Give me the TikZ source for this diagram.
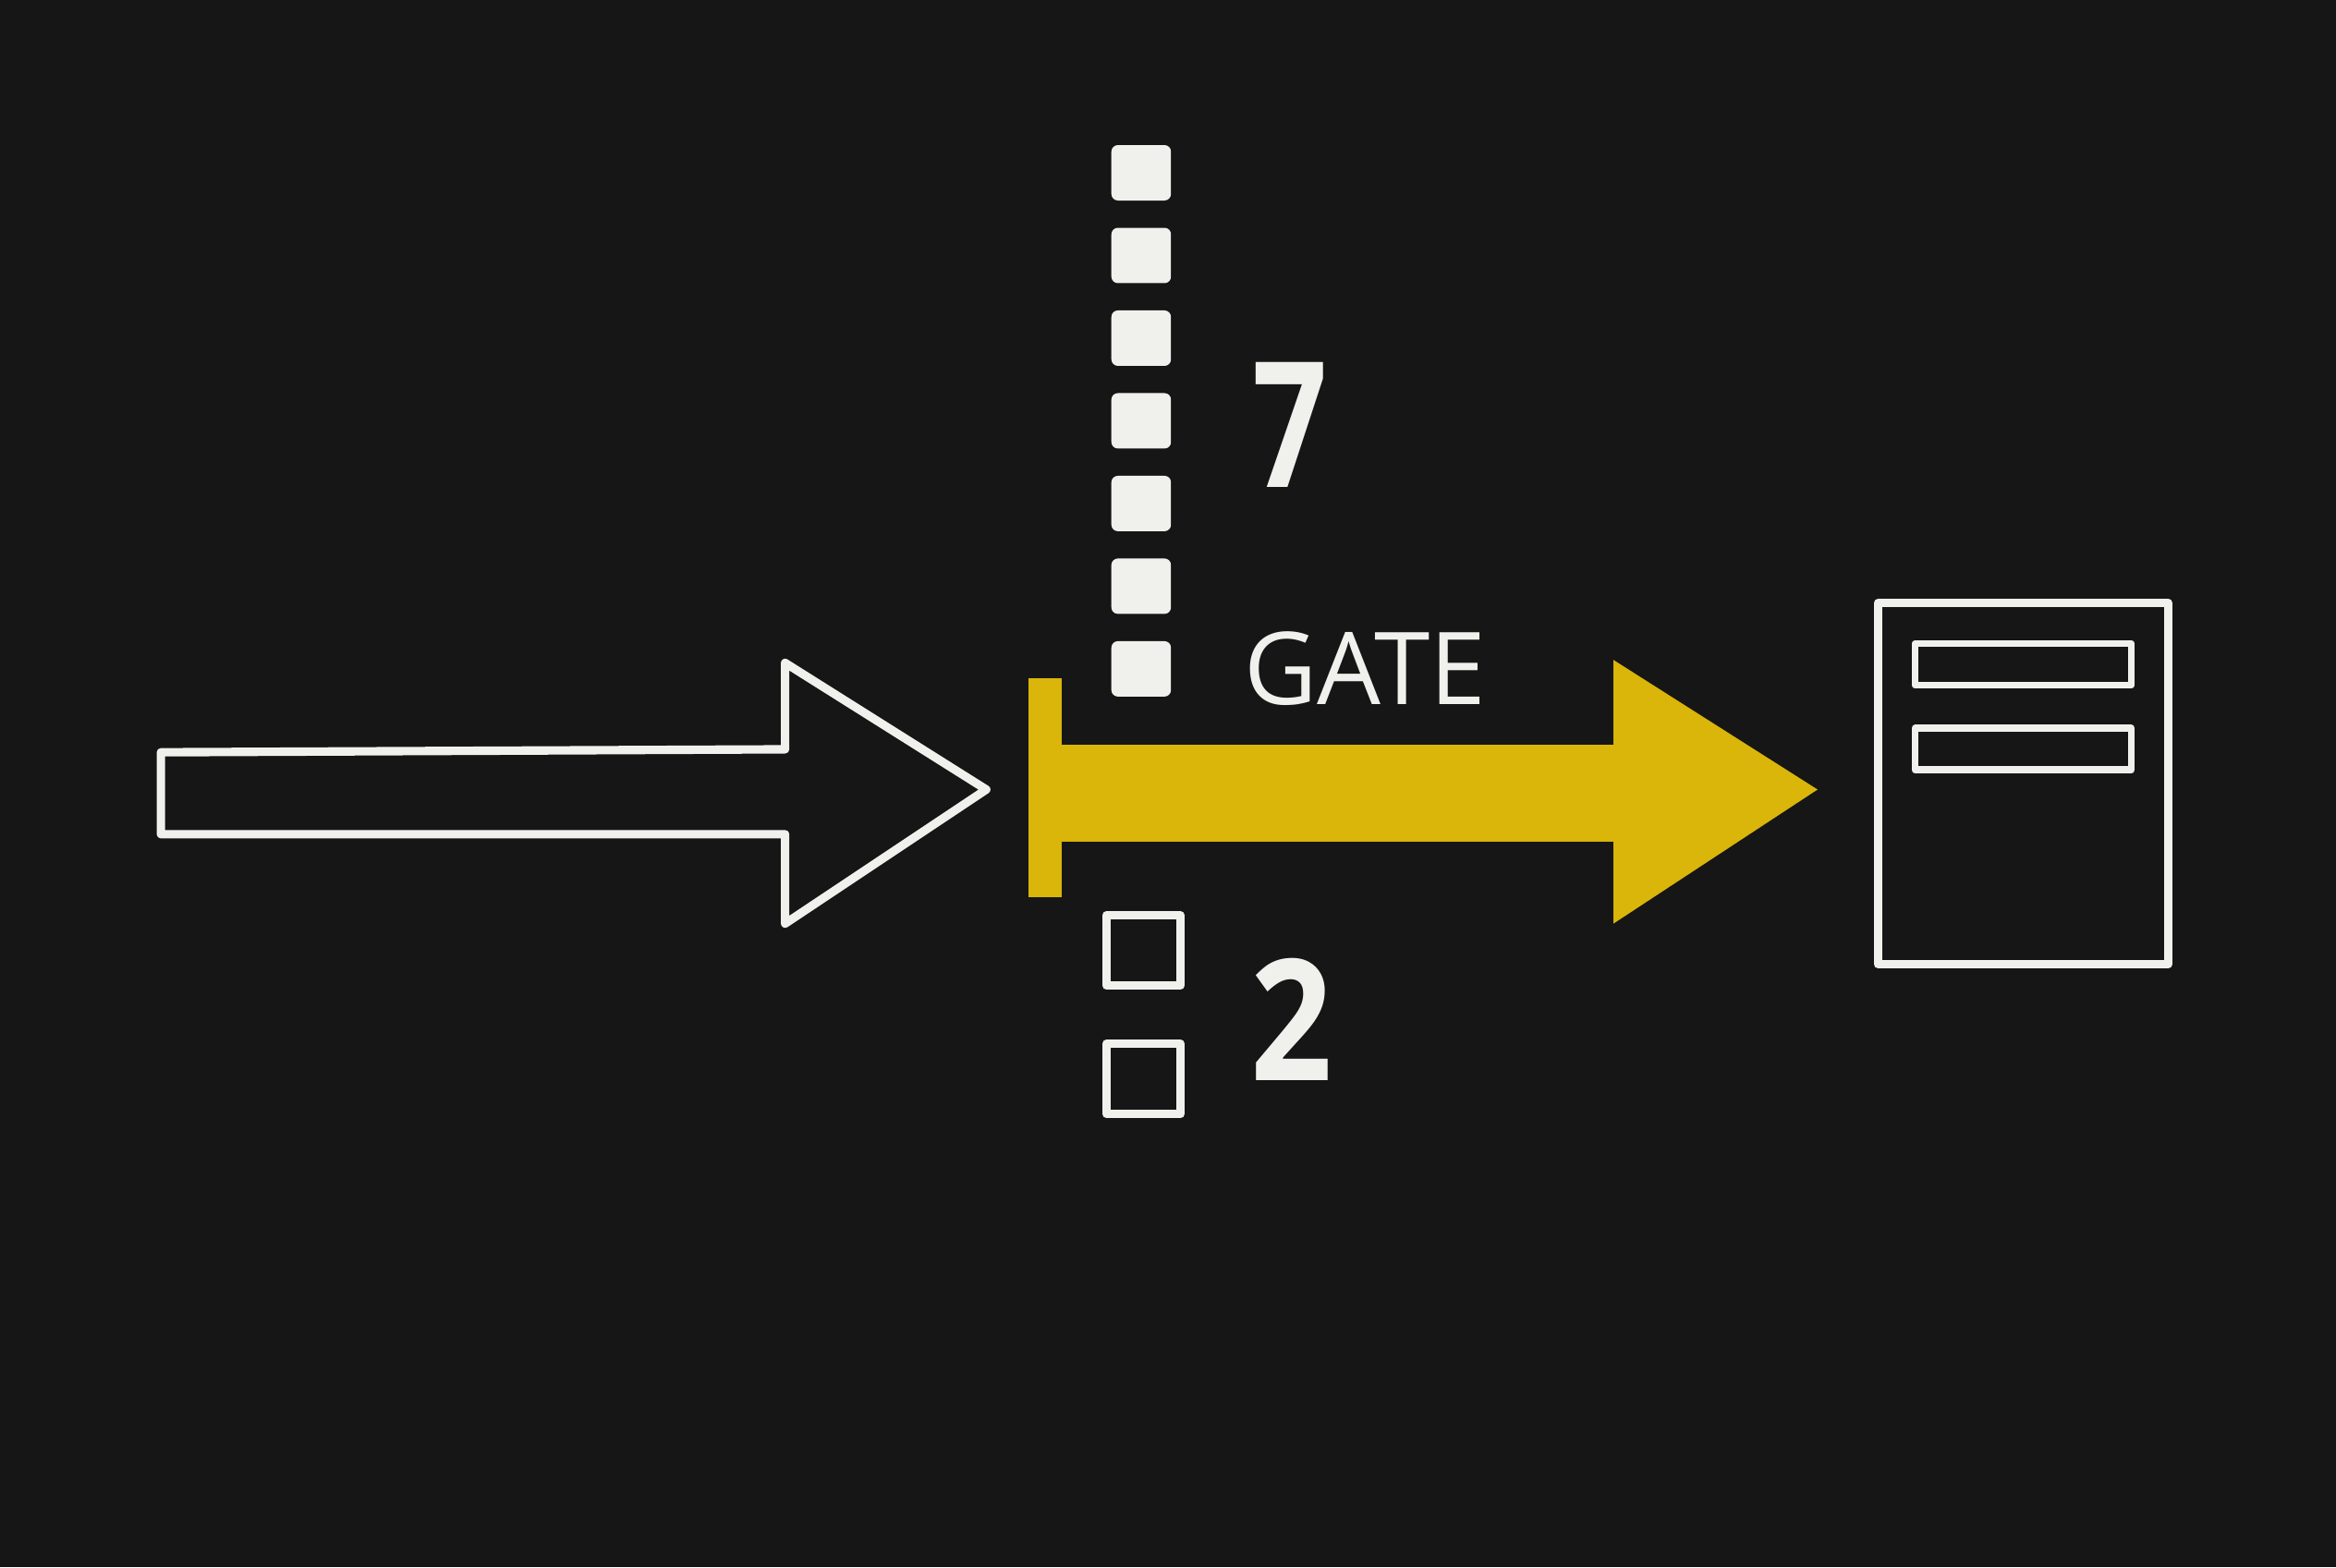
\documentclass[tikz,border=0pt]{standalone}
\usepackage{fontspec}
\setmainfont{Open Sans}
\usetikzlibrary{positioning,calc}
\definecolor{chalkbg}{RGB}{22,22,22}
\definecolor{chalkwhite}{RGB}{240,240,237}
\definecolor{chalkyellow}{RGB}{218,181,10}
\tikzset{
  chalk/.style={draw=chalkwhite, line width=2.6pt, line join=round, line cap=round},
  fullsq/.style={fill=chalkwhite, rounded corners=2pt, inner sep=0pt,
    minimum width=0.645cm, minimum height=0.6cm},
  opensq/.style={chalk, inner sep=0pt, minimum width=0.8cm, minimum height=0.76cm},
  gatebar/.style={fill=chalkyellow, inner sep=0pt, minimum width=0.37cm, minimum height=2.37cm},
  docbox/.style={chalk, inner sep=0pt, minimum width=3.14cm, minimum height=3.91cm},
  docline/.style={chalk, line width=2.2pt, inner sep=0pt, minimum width=2.34cm, minimum height=0.45cm},
  lbl/.style={text=chalkwhite, inner sep=0pt},
  every picture/.append style={line join=round}
}
\begin{document}
\begin{tikzpicture}[x=0.016122cm, y=-0.016122cm]
  \fill[chalkbg] (0,0) rectangle (1568,1052);
  \useasboundingbox (0,0) rectangle (1568,1052);
  % tally above the gate
  \foreach \i in {0,...,6}
    \node[fullsq] (f\i) at (766, 116+55.5*\i) {};
  \node[lbl, font=\fontsize{54}{54}\selectfont\bfseries, xscale=0.75]
    (seven) at (866,285) {7};
  \node[lbl, font=\fontsize{31}{31}\selectfont, right=0.78cm of f6] (gatelbl) {GATE};
  % tally below the gate
  \node[opensq] (o0) at (767.5, 638) {};
  \node[opensq, below=0.54cm of o0] (o1) {};
  \node[lbl, font=\fontsize{52}{52}\selectfont\bfseries, xscale=0.85]
    (two) at ($(o0.east)!0.5!(o1.east)+(72,3)$) {2};
  % incoming arrow
  \coordinate (wtip) at (662,530);
  \draw[chalk] (108,505) -- (527,503) -- (527,445) -- (wtip) -- (527,620)
    -- (527,560) -- (108,560) -- cycle;
  % gate and outgoing arrow
  \node[gatebar] (gate) at (701.5,528.5) {};
  \coordinate (ytip) at (1220,530);
  \fill[chalkyellow] (gate.center |- 0,500) -- (1083,500) -- (1083,443) -- (ytip)
    -- (1083,620) -- (1083,565) -- (gate.center |- 0,565) -- cycle;
  % document
  \node[docbox] (doc) at (1358,526) {};
  \node[docline] (line1) at (1358,446) {};
  \node[docline, below=0.39cm of line1] (line2) {};
\end{tikzpicture}
\end{document}
